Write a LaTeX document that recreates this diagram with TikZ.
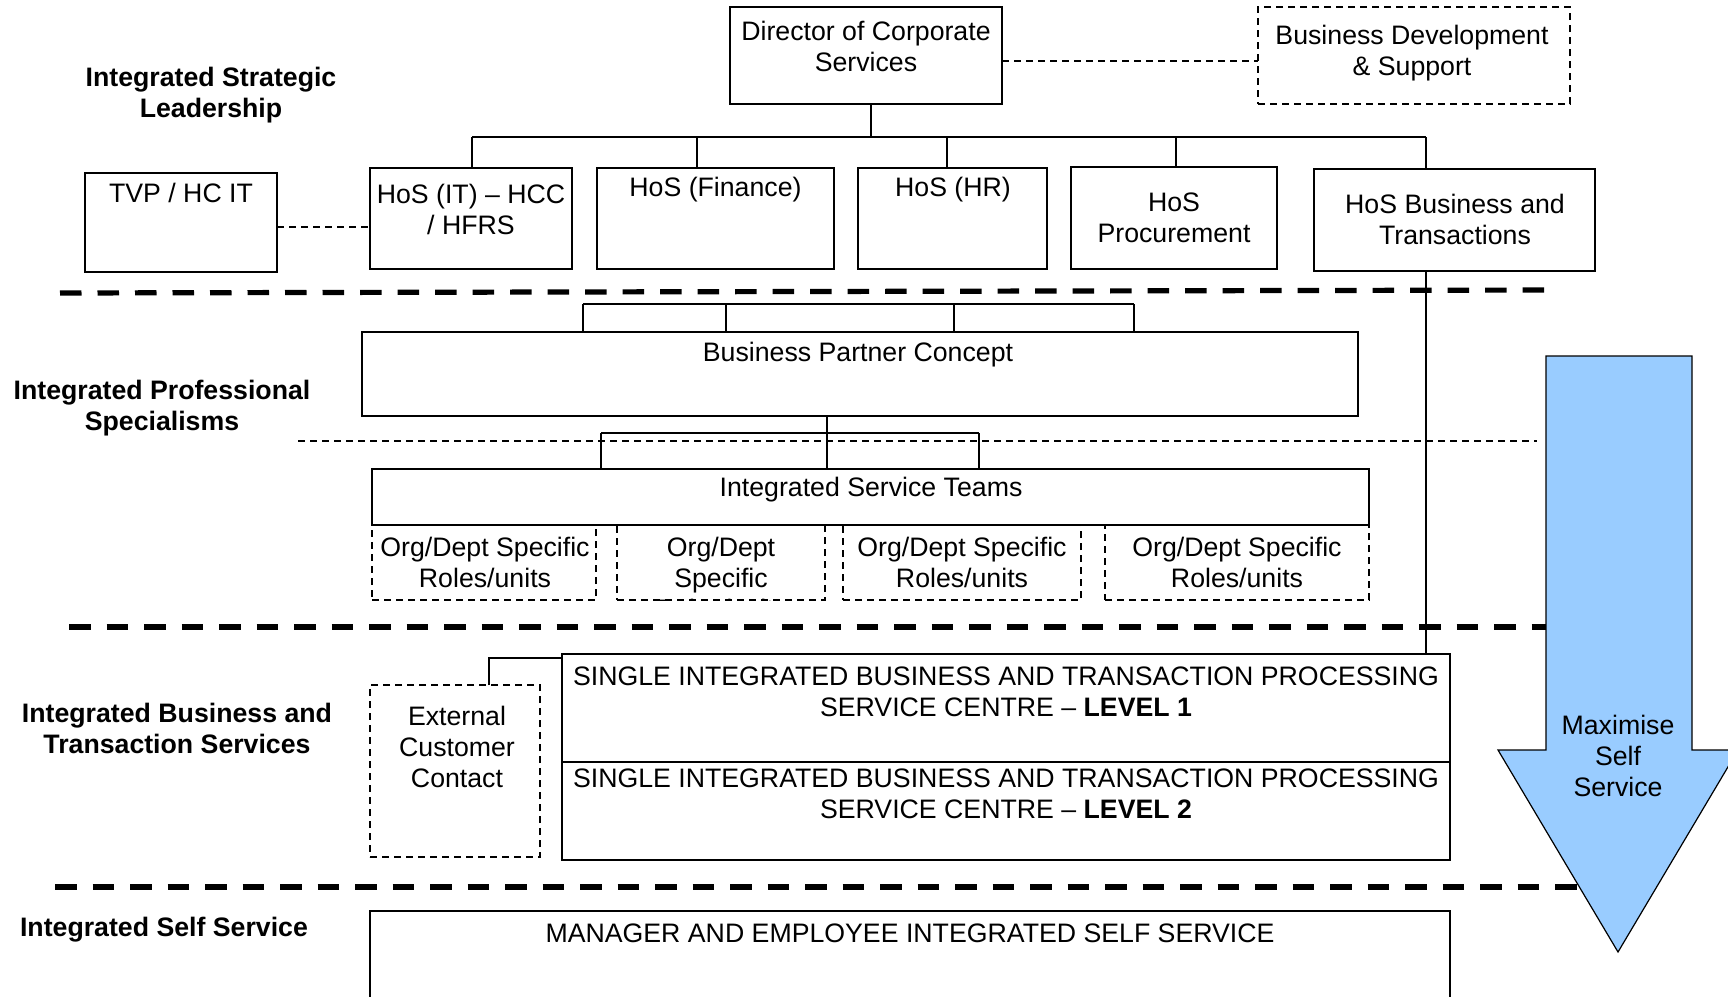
\documentclass[tikz,border=0pt]{standalone}
\usepackage{fontspec}
\setmainfont{Liberation Sans}
\definecolor{selfblue}{HTML}{99CCFF}
\begin{document}
\begin{tikzpicture}[x=0.5pt,y=-0.5pt,
  box/.style={draw, line width=1pt, inner sep=0pt, outer sep=0pt, anchor=north west},
  dbox/.style={box, line width=0.75pt, dash pattern=on 3.5pt off 2.5pt},
  link/.style={draw, line width=1pt},
  dlink/.style={draw, line width=0.75pt, dash pattern=on 3.5pt off 2.5pt},
  tier/.style={draw, line width=2.6pt, dash pattern=on 10.75pt off 8pt},
  txt/.style={font=\fontsize{13.35}{15.6}\selectfont, align=center, anchor=base, inner sep=0pt},
  lbl/.style={txt, font=\fontsize{13.35}{15.6}\selectfont\bfseries}]
\clip (0,0) rectangle (1728,996);
% text nodes are placed by the baseline of their last line

% ---- tier labels ----
\node[lbl] (l1) at (211,117.7) {Integrated Strategic\\Leadership};
\node[lbl] (l2) at (162,430.7) {Integrated Professional\\Specialisms};
\node[lbl] (l3) at (177,753.7) {Integrated Business and\\Transaction Services};
\node[lbl] (l4) at (164,936.5) {Integrated Self Service};

% ---- strategic leadership ----
\node[box, minimum width=136pt, minimum height=48.5pt] (dir) at (730,7) {};
\node[txt] (dirT) at (866,71.7) {Director of Corporate\\Services};
\node[dbox, minimum width=156pt, minimum height=48.5pt] (bd) at (1258,7) {};
\node[txt] (bdT) at (1412,75.7) {Business Development\\\& Support};

\node[box, minimum width=96pt, minimum height=49.5pt] (tvp) at (85,173) {};
\node[txt] (tvpT) at (181,202.5) {TVP / HC IT};
\node[box, minimum width=101pt, minimum height=50.5pt] (hit) at (370,168) {};
\node[txt] (hitT) at (471,234.7) {HoS (IT) -- HCC\\/ HFRS};
\node[box, minimum width=118.5pt, minimum height=50.5pt] (fin) at (597,168) {};
\node[txt] (finT) at (715.5,196.5) {HoS (Finance)};
\node[box, minimum width=94.5pt, minimum height=50.5pt] (hr) at (858,168) {};
\node[txt] (hrT) at (953,196.5) {HoS (HR)};
\node[box, minimum width=103pt, minimum height=51pt] (proc) at (1071,167) {};
\node[txt] (procT) at (1174,242.7) {HoS\\Procurement};
\node[box, minimum width=140.5pt, minimum height=51pt] (hbt) at (1314,169) {};
\node[txt] (hbtT) at (1455,244.7) {HoS Business and\\Transactions};

% reporting lines
\coordinate (tDir) at (871,137);
\coordinate (busL) at (472,137);
\coordinate (busR) at (1426,137);
\coordinate (tFin) at (697,137);
\coordinate (tHR) at (947,137);
\coordinate (tProc) at (1176,137);
\draw[link] (tDir |- dir.south) -- (tDir);
\draw[link] (busL) -- (busR);
\draw[link] (busL) -- (busL |- hit.north);
\draw[link] (tFin) -- (tFin |- fin.north);
\draw[link] (tHR) -- (tHR |- hr.north);
\draw[link] (tProc) -- (tProc |- proc.north);
\draw[link] (busR) -- (busR |- hbt.north);
\coordinate (dirBd) at (0,61);
\draw[dlink] (dir.east |- dirBd) -- (bd.west |- dirBd);
\coordinate (tvpHit) at (0,227);
\draw[dlink] (tvp.east |- tvpHit) -- (hit.west |- tvpHit);

% ---- professional specialisms ----
\node[box, minimum width=498pt, minimum height=42pt] (bp) at (362,332) {};
\node[txt] (bpT) at (858,361.5) {Business Partner Concept};
\node[dbox, minimum width=112pt, minimum height=37.5pt] (o1) at (372,525) {};
\node[dbox, minimum width=104pt, minimum height=37.5pt] (o2) at (617,525) {};
\node[dbox, minimum width=119pt, minimum height=37.5pt] (o3) at (843,525) {};
\node[dbox, minimum width=132pt, minimum height=37.5pt] (o4) at (1105,525) {};
\node[box, minimum width=498.5pt, minimum height=28pt] (ist) at (372,469) {};
\node[txt] (istT) at (871,496.5) {Integrated Service Teams};
\node[txt] (o1T) at (485,587.7) {Org/Dept Specific\\Roles/units};
\begin{scope}
  \clip (617,525) rectangle (825,600);
  \node[txt] (o2T) at (721,618.9) {Org/Dept\\Specific\\Roles/units};
\end{scope}
\node[txt] (o3T) at (962,587.7) {Org/Dept Specific\\Roles/units};
\node[txt] (o4T) at (1237,587.7) {Org/Dept Specific\\Roles/units};

% bracket above the business partner box
\coordinate (bkA) at (583,304);
\coordinate (bkB) at (1134,304);
\coordinate (bkM1) at (726,304);
\coordinate (bkM2) at (954,304);
\draw[link] (bkA) -- (bkB);
\draw[link] (bkA) -- (bkA |- bp.north);
\draw[link] (bkM1) -- (bkM1 |- bp.north);
\draw[link] (bkM2) -- (bkM2 |- bp.north);
\draw[link] (bkB) -- (bkB |- bp.north);
% links down to the service teams
\coordinate (stem) at (827,433);
\coordinate (bkC) at (601,433);
\coordinate (bkD) at (979,433);
\draw[link] (stem |- bp.south) -- (stem |- ist.north);
\draw[link] (bkC) -- (bkD);
\draw[link] (bkC) -- (bkC |- ist.north);
\draw[link] (bkD) -- (bkD |- ist.north);

% ---- business and transaction services ----
\node[box, minimum width=444pt, minimum height=54pt] (lv1) at (562,654) {};
\node[txt] (lv1T) at (1006,716.7) {SINGLE INTEGRATED BUSINESS AND TRANSACTION PROCESSING\\SERVICE CENTRE -- \textbf{LEVEL 1}};
\node[box, minimum width=444pt, minimum height=49pt] (lv2) at (562,762) {};
\node[txt] (lv2T) at (1006,818.7) {SINGLE INTEGRATED BUSINESS AND TRANSACTION PROCESSING\\SERVICE CENTRE -- \textbf{LEVEL 2}};
\node[dbox, minimum width=85pt, minimum height=86pt] (ecc) at (370,685) {};
\node[txt] (eccT) at (457,787.9) {External\\Customer\\Contact};
\coordinate (eccTap) at (489,658);
\draw[link] (ecc.north -| eccTap) -- (eccTap) -- (eccTap -| lv1.west);
\coordinate (hbtDrop) at (1426,0);
\draw[link] (hbt.south -| hbtDrop) -- (lv1.north -| hbtDrop);

% ---- self service ----
\node[box, minimum width=540pt, minimum height=54.5pt] (mss) at (370,911) {};
\node[txt] (mssT) at (910,942.5) {MANAGER AND EMPLOYEE INTEGRATED SELF SERVICE};

% ---- tier boundaries ----
\draw[tier] (60,293) -- (1556,290);
\draw[dlink] (298,441) -- (1537,441);
\draw[tier] (69,627) -- (1546,627);
\draw[tier] (55,887) -- (1590,887);

% ---- self service arrow ----
\draw[line width=0.6pt, fill=selfblue] (1546,356) -- (1692,356) -- (1692,750) -- (1738,750)
  -- (1618,952) -- (1498,750) -- (1546,750) -- cycle;
\node[txt] (arrT) at (1618,796.9) {Maximise\\Self\\Service};
\end{tikzpicture}
\end{document}
